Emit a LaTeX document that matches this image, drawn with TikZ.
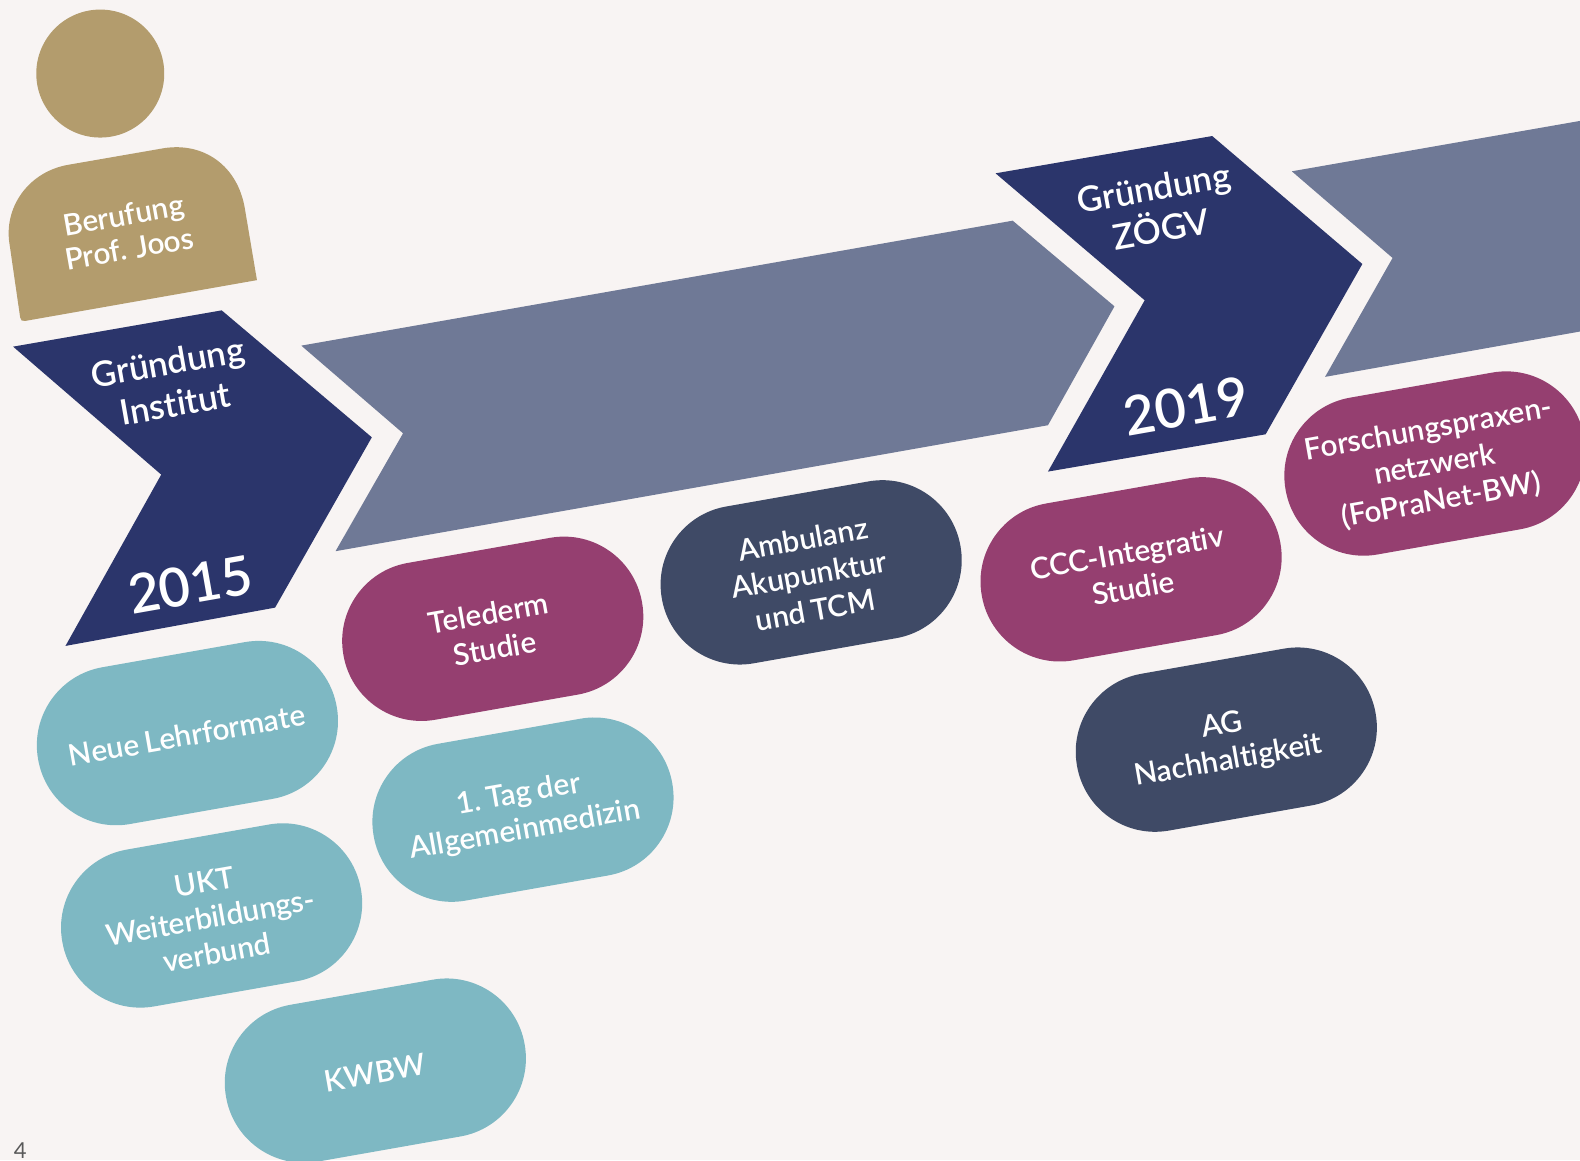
\documentclass[tikz,border=0pt]{standalone}
\usepackage{fontspec}
\setmainfont[Ligatures=NoCommon,WordSpace=0.85]{Lato Semibold}
\definecolor{bgc}{HTML}{F8F4F3}
\definecolor{gold}{HTML}{B39C6D}
\definecolor{navy}{HTML}{2B356B}
\definecolor{slate}{HTML}{6F7996}
\definecolor{teal2}{HTML}{7EB8C3}
\definecolor{plum}{HTML}{953F70}
\definecolor{darkb}{HTML}{3F4A66}
\newcommand{\fsz}[2]{\fontsize{#1pt}{#2pt}\selectfont}
\tikzset{
 pill/.style={fill=#1,rectangle,rounded corners=39.6pt,minimum width=151.6pt,minimum height=79.6pt,inner sep=0pt,rotate=10},
 lbl/.style={text=white,rotate=10,align=center,inner sep=0pt},
 pilltext/.style={lbl,font=\fsz{14.9}{18}},
}
\begin{document}
\begin{tikzpicture}[x=0.50385pt,y=-0.50385pt]
\useasboundingbox (0,0) rectangle (1568,1151.2);
\fill[bgc] (0,0) rectangle (1568,1151.2);
% arrows
\fill[slate] (299,343) -- (1005,219) -- (1106,304) -- (1040,422) -- (333,547) -- (400,430) -- cycle;
\fill[slate] (1282,170) -- (1568,120) -- (1568,329) -- (1315,374) -- (1382,256) -- cycle;
\fill[navy] (13,344) -- (220,308) -- (369,434) -- (273,603) -- (65,641) -- (160,471) -- cycle;
\fill[navy] (988,172) -- (1203,135) -- (1352,262) -- (1256,431) -- (1040,468) -- (1136,298) -- cycle;
% person
\fill[gold] (99.5,73) circle[radius=63.5];
\fill[gold] (255,278) -- (243,207) .. controls (236,165) and (203,141) .. (163,147) -- (68,163.5) .. controls (30,170) and (5,203) .. (9,239) -- (20,315) .. controls (20.5,318) and (22,319) .. (25,318.5) -- cycle;
\node[lbl,font=\fsz{14.9}{17}] (beruf) at (125.5,230) {Berufung\\Prof. Joos};
\node[lbl,font=\fsz{17.5}{21}] (gi) at (170,380) {Gründung\\Institut};
\node[lbl,font=\fsz{27}{30}] (y15) at (189,580) {2015};
\node[lbl,font=\fsz{17.5}{21}] (gz) at (1148.5,207) {Gründung\\ZÖGV};
\node[lbl,font=\fsz{27}{30}] (y19) at (1177,403) {2019};
% pills
\node[pill=teal2] (p1) at (186,727.5) {};
\node[pill=teal2] (p2) at (210,908.5) {};
\node[pill=teal2] (p3) at (372.5,1062.5) {};
\node[pill=plum] (p4) at (489,624) {};
\node[pill=teal2] (p5) at (519,803.5) {};
\node[pill=darkb] (p6) at (805,568) {};
\node[pill=plum] (p7) at (1122.5,565) {};
\node[pill=darkb] (p8) at (1217,734) {};
\node[pill=plum] (p9) at (1424,460) {};
\node[pilltext] (t1) at ([shift={(-0.5,2)}]p1.center) {Neue Lehrformate};
\node[pilltext] (t2) at ([shift={(-1,2)}]p2.center) {UKT\\Weiterbildungs-\\verbund};
\node[pilltext] (t3) at ([shift={(-0.5,2)}]p3.center) {KWBW};
\node[pilltext] (t4) at ([shift={(-1,2)}]p4.center) {Telederm\\Studie};
\node[pilltext] (t5) at ([shift={(-1,3)}]p5.center) {1.\hspace{-1.5pt} Tag der\\Allgemeinmedizin};
\node[pilltext] (t6) at ([shift={(-2,2)}]p6.center) {Ambulanz\\Akupunktur\\und TCM};
\node[pilltext] (t7) at ([shift={(-1,1)}]p7.center) {CCC-Integrativ\\Studie};
\node[pilltext] (t8) at ([shift={(-1,4)}]p8.center) {AG\\Nachhaltigkeit};
\node[pilltext] (t9) at ([shift={(0,2)}]p9.center) {Forschungspraxen-\\netzwerk\\(FoPraNet-BW)};
\node[text=black!65,font=\fsz{11}{12}\fontspec{Lato},inner sep=0pt] (num) at (20,1142) {4};
\end{tikzpicture}
\end{document}
